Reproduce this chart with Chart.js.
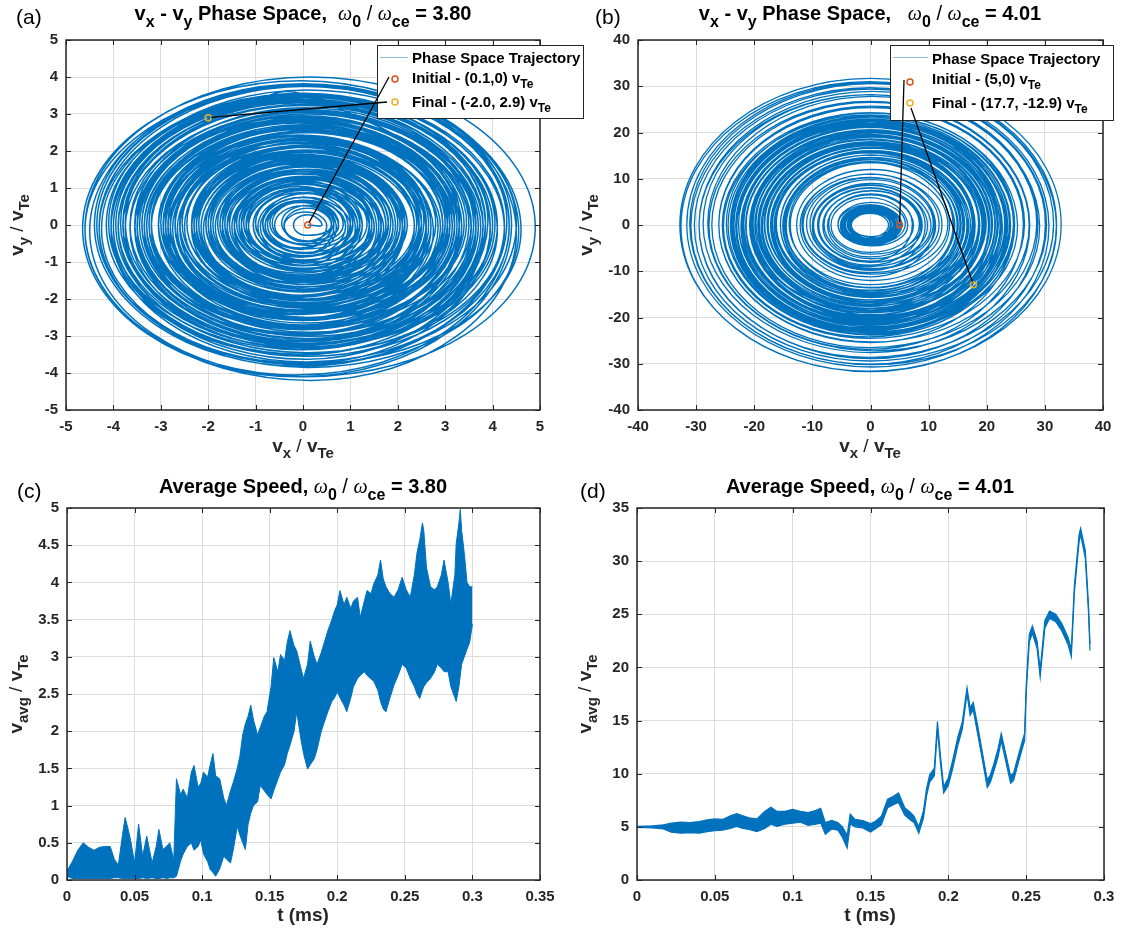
<!DOCTYPE html>
<html><head><meta charset="utf-8">
<script src="https://cdn.jsdelivr.net/npm/chart.js@4.4.1/dist/chart.umd.min.js"></script>
<style>
html,body{margin:0;padding:0;background:#fff;}
#wrap{position:relative;width:1123px;height:937px;overflow:hidden;background:#fff;}
canvas{position:absolute;left:0;top:0;}
</style></head><body>
<div id="wrap">
<canvas id="ca" width="1123" height="937"></canvas>
<canvas id="cb" width="1123" height="937"></canvas>
<canvas id="cc" width="1123" height="937"></canvas>
<canvas id="cd" width="1123" height="937"></canvas>
</div>
<script>
// ================= DATA =================
// (a) omega0/omegace = 3.80 : successive gyration loops of the trajectory
// half-width in vx, half-height in vy, loop centre (vx, vy)
const loopARx = [0.3,0.5,0.7,0.9,1.1,1.3,1.5,1.7,1.9,2.1,
2.3,2.5,2.7,2.9,2.7,2.5,2.35,2.2,2.05,1.9,
1.75,1.6,1.45,1.3,1.15,1.0,0.85,0.7,0.55,0.75,
0.95,1.15,1.35,1.55,1.75,1.95,2.15,2.35,2.55,2.75,
2.95,3.15,3.35,3.55,3.75,3.95,4.15,4.35,4.55,4.75,
4.55,4.35,4.15,3.95,3.75,3.55,3.35,3.15,2.95,2.75,
2.55,2.35,2.15,1.95,1.75,1.55,1.35,1.15,0.95,0.75,
0.6,0.45,0.65,0.85,1.05,1.25,1.45,1.65,1.85,2.05,
2.25,2.45,2.65,2.85,3.05,3.25,3.45,3.65,3.85,4.05,
4.25,4.05,3.85,3.6,3.4,3.2,3.0,2.8,2.6,2.4,
2.2,2.0,1.8,1.6,1.4,1.2,1.0,1.2,1.4,1.6,
1.8,2.0,2.2,2.4,2.6,2.8,3.0,3.2,3.4,3.6,
3.8,4.0,4.2,4.4,4.6,4.4,4.2,4.0,3.8,3.6,
3.4,3.2,3.0,2.8,2.6,2.4,2.2,2.0,1.8,1.6,
1.8,2.0,2.2,2.4,2.6,2.8,3.0,3.2,3.4,3.6,
3.8,4.0,3.8,3.6,3.4,3.2,3.0,2.8,2.6,2.8,
3.0,3.2];
const loopARy = [0.28,0.45,0.6,0.8,0.95,1.15,1.3,1.45,1.65,1.8,
2.0,2.15,2.35,2.5,2.3,2.2,2.0,1.9,1.8,1.6,
1.5,1.4,1.25,1.1,1.0,0.88,0.72,0.62,0.48,0.65,
0.8,1.0,1.18,1.32,1.52,1.68,1.86,2.05,2.2,2.36,
2.55,2.7,2.9,3.05,3.25,3.4,3.6,3.75,3.95,4.1,
3.9,3.78,3.58,3.42,3.22,3.08,2.88,2.74,2.52,2.38,
2.2,2.02,1.86,1.68,1.5,1.35,1.16,0.98,0.82,0.66,
0.52,0.4,0.56,0.74,0.9,1.08,1.26,1.42,1.6,1.78,
1.95,2.1,2.3,2.45,2.62,2.82,2.96,3.15,3.32,3.5,
3.66,3.5,3.34,3.1,2.94,2.76,2.6,2.42,2.24,2.08,
1.9,1.72,1.56,1.38,1.22,1.04,0.87,1.05,1.2,1.4,
1.55,1.74,1.9,2.07,2.25,2.4,2.6,2.76,2.93,3.1,
3.28,3.45,3.62,3.8,4.0,3.82,3.6,3.46,3.26,3.12,
2.92,2.78,2.58,2.43,2.23,2.08,1.88,1.73,1.54,1.39,
1.56,1.72,1.9,2.06,2.26,2.4,2.6,2.75,2.95,3.1,
3.3,3.44,3.28,3.12,2.92,2.78,2.58,2.44,2.24,2.42,
2.6,2.76];
const loopACx = [0.1,0.1,0.05,0,0.05,-0.05,0,0.05,-0.1,0,
0.1,-0.05,0,0.1,-0.1,0.05,0,-0.05,0.1,0,
-0.1,0.05,0,0.1,-0.05,0,0.05,-0.05,0.1,0,
0.05,-0.1,0,0.1,0.05,-0.05,0,0.1,-0.1,0.05,
0,-0.05,0.1,0,-0.1,0.05,0.1,0,0.05,0.15,
-0.05,0,0.1,-0.1,0,0.05,-0.05,0.1,0,-0.1,
0.05,0,-0.05,0.1,0,-0.1,0.05,0,0.1,-0.05,
0,0.05,-0.05,0,0.1,-0.05,0,0.05,-0.1,0,
0.1,0,-0.05,0.05,0,-0.1,0.1,0,-0.05,0.05,
0,-0.1,0.05,0.1,-0.05,0,0.05,-0.1,0,0.1,
-0.05,0,0.1,-0.05,0,0.05,-0.05,0,0.1,-0.1,
0,0.05,-0.05,0.1,0,-0.1,0.05,0,-0.05,0.1,
0,0.05,-0.1,0.1,-0.05,0,0.1,-0.05,0,0.05,
-0.1,0,0.1,-0.05,0,0.05,-0.1,0,0.05,0,
0.1,-0.05,0,0.05,-0.1,0,0.1,-0.05,0,0.05,
-0.1,0,0.05,-0.05,0.1,0,-0.05,0.05,0,-0.1,
0,-0.1];
const loopACy = [0,0,0.05,-0.05,0,0.05,-0.05,0,0.05,-0.1,
0,0.05,-0.05,0,-0.1,0.05,0,-0.05,0.05,0,
-0.05,0,0.05,-0.1,0,0.05,-0.05,0,0.05,0,
-0.05,0.05,0,-0.1,0.05,0,-0.05,0.05,-0.1,0,
0.05,-0.05,0,-0.1,0.05,-0.05,-0.1,0,-0.15,-0.1,
-0.15,0,-0.05,0.05,-0.1,0,0.05,-0.05,0,0.05,
-0.05,0,0.05,-0.05,0,0.05,-0.05,0,0.05,0,
0,-0.05,0.05,0,-0.05,0.05,0,-0.1,0.05,0,
-0.05,0.05,0,-0.1,0.05,0,-0.05,-0.1,0,-0.05,
-0.1,0,0.05,-0.05,0,0.05,-0.1,0,0.05,-0.05,
0,0.05,-0.05,0,0.05,-0.05,0,0.05,-0.05,0,
0.05,-0.05,0,0.05,-0.1,0,0.05,-0.05,0,-0.1,
-0.05,0,-0.1,-0.05,-0.1,0,0.05,-0.05,0,0.05,
-0.05,0,0.05,-0.1,0,0.05,-0.05,0,0.05,0,
-0.05,0.05,0,-0.1,0.05,0,-0.05,0.05,0,-0.05,
0,-0.05,0.05,0,-0.05,0.05,0,-0.1,0.05,0,
0.05,0];
const tailAX = [3.3, 0.3];       // last half-turn before the final point
const tailAY = [0.0, 3.4];
const markAX = [0.1, -2.0];      // initial, final (from legend)
const markAY = [0, 2.9];

// (b) omega0/omegace = 4.01
const loopBRx = [5.0,4.6,4.2,3.8,3.4,3.2,3.5,3.9,4.3,4.7,
5.1,5.5,5.2,4.8,4.4,4.0,3.6,4.1,4.6,5.2,
5.8,6.6,7.4,8.2,9.0,9.8,10.6,11.4,12.2,11.0,
9.6,8.4,7.2,8.8,10.2,11.8,13.0,13.8,14.5,15.2,
15.9,16.6,17.3,18.0,18.7,19.4,20.1,20.8,21.5,22.2,
22.9,23.6,24.3,25.0,24.6,23.9,23.2,22.5,21.8,21.1,
20.4,19.7,19.0,18.3,17.6,16.9,16.2,15.5,14.8,14.1,
14.5,15.1,15.7,16.3,16.9,17.5,18.1,18.7,19.3,19.9,
20.5,21.1,21.7,22.3,22.9,23.5,24.1,23.7,22.6,21.4,
20.2,19.0,17.8,16.6,17.2,18.4,19.6,20.8,22.0,23.2,
24.4,25.4,26.3,27.3,28.3,29.3,30.3,31.3,32.3,32.8,
31.8,30.8,29.8,28.8,27.6,26.2,24.8,23.4,22.0,20.8];
const loopBRy = [4.0,3.7,3.35,3.0,2.7,2.5,2.8,3.1,3.45,3.75,
4.1,4.4,4.15,3.85,3.5,3.2,2.9,3.3,3.7,4.2,
4.7,5.9,6.7,7.4,8.1,8.8,9.6,10.3,11.1,10.0,
8.7,7.6,6.5,8.0,9.3,10.8,12.0,13.2,13.9,14.6,
15.3,15.9,16.6,17.3,17.9,18.6,19.3,20.0,20.6,21.3,
22.0,22.7,23.3,24.0,23.6,22.9,22.3,21.6,20.9,20.3,
19.6,18.9,18.2,17.6,16.9,16.2,15.6,14.9,14.2,13.5,
13.9,14.5,15.1,15.6,16.2,16.8,17.4,17.9,18.5,19.1,
19.7,20.3,20.8,21.4,22.0,22.6,23.1,22.8,21.7,20.5,
19.4,18.2,17.1,15.9,16.5,17.7,18.8,20.0,21.1,22.3,
23.4,24.4,25.5,26.5,27.5,28.4,29.4,30.4,31.3,31.7,
30.8,29.9,28.9,27.9,26.8,25.4,24.0,22.7,21.3,20.2];
const loopBCx = [0,0.1,-0.1,0.1,0,-0.1,0.1,0,-0.1,0.1,
0,-0.1,0.1,0,-0.1,0.1,0,0.1,-0.1,0,
0.2,-0.2,0,0.2,-0.1,0,0.2,-0.2,0.1,0,
-0.2,0.2,0,-0.1,0.2,0,0.3,-0.2,0,0.2,
-0.3,0,0.3,-0.2,0.1,0,-0.3,0.2,0,0.3,
-0.2,0,0.3,-0.3,0.1,0,0.2,-0.2,0,0.3,
-0.1,0,0.2,-0.3,0,0.3,-0.2,0,0.1,0.3,
-0.3,0,0.2,-0.1,0,0.3,-0.2,0,0.2,-0.3,
0,0.3,-0.2,0,0.2,-0.3,0,0.2,-0.1,0,
0.3,-0.2,0,0.2,0.3,0.2,0.3,0.2,0,0.1,
0.3,-0.1,0.2,0,0.3,-0.2,0,0.2,-0.3,0,
0.2,-0.1,0.3,0,-0.2,0.1,0,0.2,-0.2,0];
const loopBCy = [0,0.1,0,-0.1,0.1,0,-0.1,0.1,0,-0.1,
0.1,0,-0.1,0.1,0,-0.1,0,0.1,0,-0.1,
0.2,0,-0.2,0.1,0,-0.2,0.2,0,-0.1,0.2,
0,-0.2,0.2,0,-0.3,0.2,0,0.3,-0.2,0,
0.3,-0.3,0,0.2,-0.2,0,0.3,-0.1,0,0.2,
-0.3,0,0.2,-0.2,0,0.3,-0.3,0,0.2,-0.1,
0,0.3,-0.2,0,0.2,-0.3,0,0.2,-0.1,0,
0.3,-0.2,0,0.2,-0.3,0,0.3,-0.1,0,0.2,
-0.2,0,0.3,-0.3,0,0.2,-0.2,0,0.3,-0.1,
0,0.2,0.3,0.2,0.3,0.3,0.2,0.3,0.2,0,
0.2,-0.1,0.2,0,0.3,-0.2,0,0.2,-0.3,0,
0.1,-0.2,0,0.3,-0.1,0,0.2,-0.2,0,0];
const tailBX = [];
const tailBY = [];
const markBX = [5, 17.7];
const markBY = [0, -12.9];

// (c) average speed, 3.80 : time (ms), lower / upper envelope of the noisy trace
const speedCT = [0,0.004,0.008,0.012,0.016,0.02,0.024,0.028,0.032,0.035,
0.038,0.041,0.043,0.045,0.047,0.05,0.053,0.056,0.059,0.063,
0.066,0.068,0.071,0.074,0.076,0.079,0.081,0.084,0.086,0.089,
0.092,0.094,0.097,0.099,0.101,0.104,0.106,0.108,0.11,0.113,
0.116,0.118,0.121,0.123,0.126,0.128,0.13,0.132,0.134,0.136,
0.138,0.141,0.143,0.146,0.148,0.151,0.153,0.156,0.158,0.161,
0.163,0.165,0.168,0.17,0.173,0.175,0.178,0.18,0.183,0.185,
0.188,0.19,0.193,0.196,0.198,0.2,0.202,0.205,0.207,0.21,
0.212,0.215,0.217,0.22,0.222,0.225,0.227,0.23,0.232,0.234,
0.236,0.239,0.242,0.245,0.248,0.251,0.254,0.257,0.259,0.261,
0.263,0.264,0.266,0.269,0.272,0.274,0.277,0.279,0.282,0.284,
0.287,0.288,0.29,0.291,0.292,0.294,0.296,0.298,0.3];
const speedCLow = [0.05,0.02,0.02,0.02,0.02,0.02,0.02,0.02,0.02,0.03,
0.03,0.02,0.02,0.02,0.02,0.02,0.02,0.03,0.02,0.03,
0.02,0.02,0.03,0.02,0.03,0.03,0.05,0.25,0.35,0.45,
0.50,0.40,0.45,0.54,0.35,0.25,0.14,0.10,0.05,0.15,
0.32,0.28,0.23,0.40,0.72,0.60,0.50,0.41,0.75,0.90,
1.00,1.05,1.27,1.20,1.15,1.09,1.20,1.35,1.45,1.55,
1.70,1.81,2.00,2.26,1.90,1.70,1.49,1.55,1.63,1.75,
1.99,2.10,2.26,2.40,2.45,2.53,2.45,2.35,2.26,2.45,
2.60,2.71,2.75,2.80,2.75,2.70,2.67,2.55,2.40,2.30,
2.26,2.45,2.62,2.75,2.90,2.85,2.71,2.60,2.50,2.44,
2.55,2.60,2.65,2.71,2.80,2.90,2.85,2.80,2.80,2.60,
2.45,2.40,2.60,2.75,2.90,3.00,3.10,3.20,3.44];
const speedCHigh = [0.12,0.25,0.40,0.50,0.44,0.40,0.44,0.45,0.45,0.28,
0.20,0.60,0.84,0.70,0.54,0.23,0.75,0.32,0.59,0.23,
0.45,0.68,0.41,0.46,0.50,0.27,1.36,1.15,1.22,1.10,
1.45,1.54,1.25,1.30,1.45,1.38,1.55,1.70,1.40,1.36,
1.10,1.00,1.20,1.31,1.50,1.67,1.95,2.10,2.20,2.35,
2.15,1.95,2.05,2.20,2.26,2.60,2.99,2.80,3.03,2.95,
3.20,3.35,3.15,3.08,2.85,2.71,2.90,3.21,3.00,2.90,
3.05,3.17,3.35,3.50,3.62,3.70,3.89,3.70,3.80,3.65,
3.75,3.80,3.53,3.75,3.89,3.85,3.98,4.10,4.30,4.05,
3.94,3.85,3.80,3.90,4.07,3.90,3.80,4.10,4.40,4.57,
4.80,4.70,4.20,3.94,3.90,3.94,4.10,4.30,4.00,3.71,
4.10,4.52,4.80,4.98,4.70,4.39,4.00,3.94,3.94];

// (d) average speed, 4.01
const speedDT = [0,0.01,0.017,0.022,0.028,0.034,0.04,0.045,0.05,0.055,
0.06,0.064,0.068,0.072,0.077,0.082,0.086,0.09,0.095,0.1,
0.105,0.11,0.115,0.118,0.121,0.125,0.129,0.132,0.135,0.137,
0.14,0.145,0.15,0.153,0.157,0.161,0.165,0.168,0.172,0.176,
0.178,0.181,0.184,0.186,0.188,0.191,0.193,0.195,0.197,0.2,
0.203,0.206,0.209,0.212,0.214,0.216,0.219,0.222,0.225,0.227,
0.229,0.232,0.234,0.237,0.24,0.242,0.244,0.247,0.249,0.25,
0.252,0.254,0.257,0.259,0.262,0.265,0.269,0.273,0.277,0.279,
0.281,0.284,0.285,0.287,0.288,0.29,0.291];
const speedDLow = [4.95,4.9,4.8,4.5,4.4,4.45,4.4,4.55,4.65,4.7,
4.85,5.05,4.85,4.75,4.55,4.85,5.25,5.05,5.25,5.35,
5.45,5.15,5.25,5.35,4.3,4.8,4.7,4.0,3.0,5.3,
5.0,4.9,4.5,4.8,5.2,6.8,7.1,7.3,6.1,5.6,
5.4,4.4,5.8,7.9,9.2,9.8,14.2,10.9,8.2,8.9,
10.6,12.6,14.2,17.5,15.5,16.0,13.6,11.2,8.7,9.2,
10.1,11.6,13.1,11.1,9.1,9.4,10.5,12.1,13.1,17.5,
22.4,23.2,21.8,19.1,23.7,24.6,24.3,23.4,22.1,21.0,
27.1,31.8,32.5,31.0,30.3,25.3,21.6];
const speedDHigh = [5.05,5.1,5.2,5.35,5.45,5.4,5.5,5.65,5.75,5.7,
6.05,6.25,6.05,5.85,5.75,6.45,6.85,6.45,6.45,6.65,
6.45,6.35,6.55,6.75,5.4,5.6,5.4,5.0,4.2,6.2,
5.7,5.6,5.3,5.5,6.0,7.6,7.9,8.2,6.8,6.3,
6.0,5.0,6.5,8.6,9.9,10.5,14.9,11.6,8.8,9.6,
11.4,13.4,14.9,18.1,16.2,16.7,14.4,11.9,9.4,9.9,
10.8,12.4,13.8,11.8,9.8,10.1,11.2,12.8,13.8,18.3,
23.1,23.9,22.5,19.8,24.4,25.3,25.0,24.1,22.8,21.7,
27.8,32.5,33.1,31.7,31.0,26.0,22.2];

// tick values
const ticksAX = [-5,-4,-3,-2,-1,0,1,2,3,4,5];
const ticksAY = [-5,-4,-3,-2,-1,0,1,2,3,4,5];
const ticksBX = [-40,-30,-20,-10,0,10,20,30,40];
const ticksBY = [-40,-30,-20,-10,0,10,20,30,40];
const ticksCX = [0,0.05,0.1,0.15,0.2,0.25,0.3,0.35];
const ticksCY = [0,0.5,1,1.5,2,2.5,3,3.5,4,4.5,5];
const ticksDX = [0,0.05,0.1,0.15,0.2,0.25,0.3];
const ticksDY = [0,5,10,15,20,25,30,35];

// ================= HELPERS =================
const W = 1123, H = 937, YW = 56, XH = 30;
const FONT = "'Liberation Sans', Arial, Helvetica, sans-serif";
const INK = '#262626';
const BLUE = '#0072BD', RED = '#D95319', YEL = '#EDB120';

function pts(xs, ys) { const n = Math.min(xs.length, ys.length); const r = []; for (let i = 0; i < n; i++) r.push({x: xs[i], y: ys[i]}); return r; }
// trajectory table: each loop passes its right, top, left and bottom extreme
function loopTable(rx, ry, cx, cy, tx, ty, start, end) {
  const n = Math.min(rx.length, ry.length, cx.length, cy.length);
  const out = [start];
  for (let i = 0; i < n; i++) {
    out.push({x: cx[i] + rx[i], y: cy[i]}, {x: cx[i], y: cy[i] + ry[i]},
             {x: cx[i] - rx[i], y: cy[i]}, {x: cx[i], y: cy[i] - ry[i]});
  }
  out.push(...pts(tx, ty));
  out.push(end);
  return out;
}
function fmt(v) { return String(+(+v).toFixed(3)); }

function parseRich(spec) {
  return spec.map(s => {
    if (s[0] === '_') return {k: 's', t: s.slice(1)};
    if (s[0] === '~') return {k: 'g', t: s.slice(1)};
    if (s[0] === '^') return {k: 'l', t: s.slice(1)};
    return {k: 'n', t: s};
  });
}
function partFont(p, size) {
  if (p.k === 'g') return `italic ${size}px 'Liberation Serif', 'DejaVu Serif', serif`;
  if (p.k === 's') return `bold ${Math.round(size * 0.8)}px ${FONT}`;
  if (p.k === 'l') return `${size}px ${FONT}`;
  return `bold ${size}px ${FONT}`;
}
function drawRich(ctx, spec, x, y, size, align) {
  const parts = parseRich(spec);
  let w = 0;
  for (const p of parts) { ctx.font = partFont(p, size); w += ctx.measureText(p.t).width; }
  let cx = align === 'center' ? x - w / 2 : (align === 'right' ? x - w : x);
  ctx.textAlign = 'left'; ctx.textBaseline = 'alphabetic';
  for (const p of parts) {
    ctx.font = partFont(p, size);
    ctx.fillText(p.t, cx, y + (p.k === 's' ? size * 0.33 : 0));
    cx += ctx.measureText(p.t).width;
  }
}
function circle(ctx, x, y, color) {
  ctx.beginPath(); ctx.arc(x, y, 3, 0, Math.PI * 2);
  ctx.lineWidth = 1.5; ctx.strokeStyle = color; ctx.stroke();
}

const decoPlugin = {
  id: 'deco',
  afterDatasetsDraw(chart, args, o) {
    const {ctx, chartArea: a, scales: {x, y}} = chart;
    ctx.save();
    ctx.strokeStyle = INK; ctx.lineWidth = 1;
    ctx.beginPath();
    x.ticks.forEach(t => { const p = Math.round(x.getPixelForValue(t.value)) + 0.5;
      ctx.moveTo(p, a.bottom); ctx.lineTo(p, a.bottom - 5); ctx.moveTo(p, a.top); ctx.lineTo(p, a.top + 5); });
    y.ticks.forEach(t => { const p = Math.round(y.getPixelForValue(t.value)) + 0.5;
      ctx.moveTo(a.left, p); ctx.lineTo(a.left + 5, p); ctx.moveTo(a.right, p); ctx.lineTo(a.right - 5, p); });
    ctx.stroke();
    ctx.lineWidth = 1.5;
    ctx.strokeRect(a.left, a.top, a.right - a.left, a.bottom - a.top);
    ctx.restore();
  },
  afterDraw(chart, args, o) {
    const {ctx, scales: {x, y}} = chart;
    ctx.save();
    ctx.fillStyle = '#000';
    drawRich(ctx, o.title, o.titleAt[0], o.titleAt[1], 20, 'center');
    ctx.fillStyle = INK;
    drawRich(ctx, o.xlabel, o.xlabelAt[0], o.xlabelAt[1], 19, 'center');
    ctx.save(); ctx.translate(o.ylabelAt[0], o.ylabelAt[1]); ctx.rotate(-Math.PI / 2);
    drawRich(ctx, o.ylabel, 0, 0, 19, 'center'); ctx.restore();
    ctx.fillStyle = '#000';
    ctx.font = `21px ${FONT}`; ctx.textAlign = 'left'; ctx.textBaseline = 'alphabetic';
    ctx.fillText(o.letter, o.letterAt[0], o.letterAt[1]);
    if (o.legend) {
      const L = o.legend;
      ctx.fillStyle = '#fff'; ctx.fillRect(L.box[0], L.box[1], L.box[2], L.box[3]);
      ctx.strokeStyle = INK; ctx.lineWidth = 1;
      ctx.strokeRect(L.box[0] + 0.5, L.box[1] + 0.5, L.box[2], L.box[3]);
      ctx.strokeStyle = '#8cc0e3'; ctx.lineWidth = 1;
      ctx.beginPath(); ctx.moveTo(L.line[0], L.line[2] + 0.5); ctx.lineTo(L.line[1], L.line[2] + 0.5); ctx.stroke();
      ctx.fillStyle = '#000';
      L.rows.forEach(r => {
        drawRich(ctx, r.spec, L.textX, r.y, 15, 'left');
        if (r.mark) circle(ctx, r.mark[0], r.mark[1], r.color);
      });
    }
    if (o.links) {
      ctx.strokeStyle = '#000'; ctx.lineWidth = 1.3;
      o.links.forEach(l => {
        const tx = x.getPixelForValue(l.to[0]), ty = y.getPixelForValue(l.to[1]);
        const dx = tx - l.from[0], dy = ty - l.from[1], d = Math.hypot(dx, dy);
        ctx.beginPath(); ctx.moveTo(l.from[0], l.from[1]);
        ctx.lineTo(tx - dx / d * 3, ty - dy / d * 3); ctx.stroke();
      });
    }
    ctx.restore();
  }
};

function axis(min, max, ticks, isY) {
  return {
    type: 'linear', min, max,
    afterBuildTicks: s => { s.ticks = ticks.map(v => ({value: v})); },
    afterFit: s => { if (isY) s.width = YW; else s.height = XH; },
    grid: {color: '#dcdcdc', lineWidth: 1, drawTicks: false},
    border: {display: false},
    ticks: {color: INK, font: {family: FONT, size: 15, weight: 'bold'}, padding: 8,
            maxRotation: 0, autoSkip: false, callback: v => fmt(v)}
  };
}

function panel(id, box, xs, ys, datasets, deco) {
  return new Chart(document.getElementById(id), {
    type: 'line',
    data: {datasets},
    options: {
      responsive: false, animation: false, events: [], devicePixelRatio: 1,
      layout: {autoPadding: false, padding: {left: box.l - YW, top: box.t, right: W - box.r, bottom: H - box.b - XH}},
      plugins: {legend: {display: false}, tooltip: {enabled: false}, title: {display: false}, deco},
      scales: {x: xs, y: ys}
    },
    plugins: [decoPlugin]
  });
}

function markSet(x, y, color) {
  return {data: [{x, y}], showLine: false, pointRadius: 3, pointBorderWidth: 1.5,
          pointBorderColor: color, pointBackgroundColor: 'rgba(0,0,0,0)'};
}

// ================= PANELS =================
panel('ca', {l: 66, r: 540, t: 40, b: 410}, axis(-5, 5, ticksAX, false), axis(-5, 5, ticksAY, true), [
  markSet(markAX[0], markAY[0], RED),
  markSet(markAX[1], markAY[1], YEL),
  {data: loopTable(loopARx, loopARy, loopACx, loopACy, tailAX, tailAY, {x: markAX[0], y: markAY[0]}, {x: markAX[1], y: markAY[1]}),
   borderColor: BLUE, borderWidth: 1.5, pointRadius: 0, tension: 0.55, fill: false}
], {
  title: ['v', '_x', ' - v', '_y', ' Phase Space,  ', '~ω', '_0', '^ / ', '~ω', '_ce', ' = 3.80'],
  titleAt: [303, 20],
  xlabel: ['v', '_x', '^ / ', 'v', '_Te'], xlabelAt: [303, 452],
  ylabel: ['v', '_y', '^ / ', 'v', '_Te'], ylabelAt: [23, 225],
  letter: '(a)', letterAt: [16, 24],
  legend: {box: [377, 45, 206, 73], line: [380, 408, 57], textX: 412, rows: [
    {spec: ['Phase Space Trajectory'], y: 63},
    {spec: ['Initial - (0.1,0) v', '_Te'], y: 83, mark: [395, 79], color: RED},
    {spec: ['Final - (-2.0, 2.9) v', '_Te'], y: 107, mark: [395, 102], color: YEL}]},
  links: [{from: [389, 77], to: [markAX[0], markAY[0]]}, {from: [387, 102], to: [markAX[1], markAY[1]]}]
});

panel('cb', {l: 638, r: 1103, t: 40, b: 410}, axis(-40, 40, ticksBX, false), axis(-40, 40, ticksBY, true), [
  markSet(markBX[0], markBY[0], RED),
  markSet(markBX[1], markBY[1], YEL),
  {data: loopTable(loopBRx, loopBRy, loopBCx, loopBCy, tailBX, tailBY, {x: markBX[0], y: markBY[0]}, {x: markBX[1], y: markBY[1]}),
   borderColor: BLUE, borderWidth: 1.3, pointRadius: 0, tension: 0.55, fill: false}
], {
  title: ['v', '_x', ' - v', '_y', ' Phase Space,   ', '~ω', '_0', '^ / ', '~ω', '_ce', ' = 4.01'],
  titleAt: [870, 20],
  xlabel: ['v', '_x', '^ / ', 'v', '_Te'], xlabelAt: [870, 452],
  ylabel: ['v', '_y', '^ / ', 'v', '_Te'], ylabelAt: [592, 225],
  letter: '(b)', letterAt: [595, 24],
  legend: {box: [890, 45, 223, 75], line: [893, 928, 57], textX: 932, rows: [
    {spec: ['Phase Space Trajectory'], y: 64},
    {spec: ['Initial - (5,0) v', '_Te'], y: 84, mark: [910, 82], color: RED},
    {spec: ['Final - (17.7, -12.9) v', '_Te'], y: 108, mark: [910, 103], color: YEL}]},
  links: [{from: [904, 80], to: [markBX[0], markBY[0]]}, {from: [911, 108], to: [markBX[1], markBY[1]]}]
});

panel('cc', {l: 67, r: 540, t: 508, b: 880}, axis(0, 0.35, ticksCX, false), axis(0, 5, ticksCY, true), [
  {data: pts(speedCT, speedCLow), borderColor: BLUE, borderWidth: 1, pointRadius: 0, tension: 0, fill: false},
  {data: pts(speedCT, speedCHigh), borderColor: BLUE, backgroundColor: BLUE, borderWidth: 1, pointRadius: 0, tension: 0, fill: '-1'}
], {
  title: ['Average Speed, ', '~ω', '_0', '^ / ', '~ω', '_ce', ' = 3.80'], titleAt: [303, 493],
  xlabel: ['t (ms)'], xlabelAt: [303, 921],
  ylabel: ['v', '_avg', '^ / ', 'v', '_Te'], ylabelAt: [22, 694],
  letter: '(c)', letterAt: [17, 498]
});

panel('cd', {l: 637, r: 1104, t: 508, b: 880}, axis(0, 0.3, ticksDX, false), axis(0, 35, ticksDY, true), [
  {data: pts(speedDT, speedDLow), borderColor: BLUE, borderWidth: 1.2, pointRadius: 0, tension: 0, fill: false},
  {data: pts(speedDT, speedDHigh), borderColor: BLUE, backgroundColor: BLUE, borderWidth: 1.2, pointRadius: 0, tension: 0, fill: '-1'}
], {
  title: ['Average Speed, ', '~ω', '_0', '^ / ', '~ω', '_ce', ' = 4.01'], titleAt: [870, 493],
  xlabel: ['t (ms)'], xlabelAt: [870, 921],
  ylabel: ['v', '_avg', '^ / ', 'v', '_Te'], ylabelAt: [591, 694],
  letter: '(d)', letterAt: [580, 498]
});
</script>
</body></html>
